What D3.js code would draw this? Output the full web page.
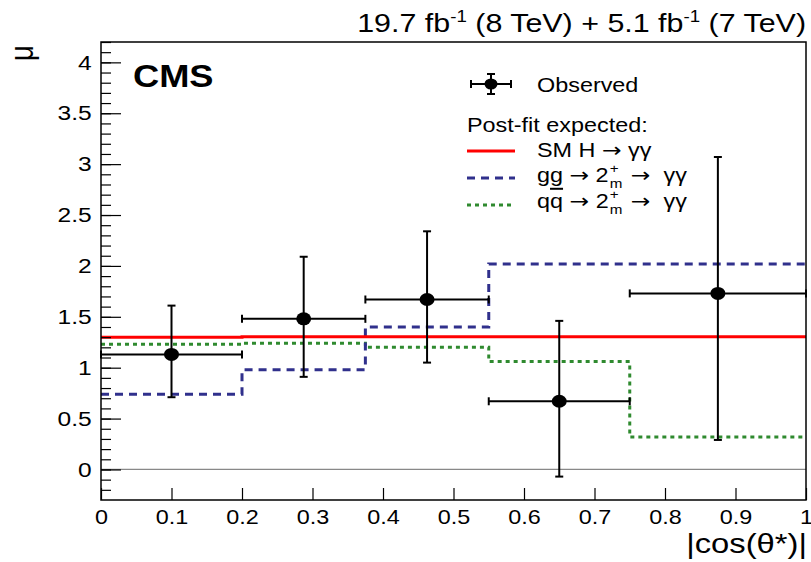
<!DOCTYPE html>
<html>
<head>
<meta charset="utf-8">
<script src="https://cdn.jsdelivr.net/npm/d3@7"></script>
<style>
  body { margin: 0; background: #fff; }
  text { font-family: "Liberation Sans", Arial, sans-serif; fill: #000; }
  .arrow { font-family: "DejaVu Sans", sans-serif; }
</style>
</head>
<body>
<div id="chart"></div>
<script>
// bin edges of |cos(theta*)|
const binEdges = [0, 0.2, 0.375, 0.55, 0.75, 1.0];

// observed signal strength per bin
const obsX = [0.1, 0.2875, 0.4625, 0.65, 0.875];
const obsMu = [1.13, 1.48, 1.67, 0.67, 1.73];
const obsLo = [0.71, 0.91, 1.05, -0.07, 0.29];
const obsHi = [1.61, 2.09, 2.34, 1.46, 3.07];

// post-fit expected
const smMu = [1.30, 1.305, 1.305, 1.305, 1.305];
const ggMu = [0.74, 0.98, 1.40, 2.02, 2.02];
const qqMu = [1.23, 1.24, 1.20, 1.06, 0.32];

const xTicks = [0, 0.1, 0.2, 0.3, 0.4, 0.5, 0.6, 0.7, 0.8, 0.9, 1];
const yTicks = [0, 0.5, 1, 1.5, 2, 2.5, 3, 3.5, 4];

const width = 811, height = 562;
const margin = { top: 42, right: 5, bottom: 62, left: 101 };
const innerWidth = width - margin.left - margin.right;
const innerHeight = height - margin.top - margin.bottom;
const sx = 1.17; // text in the picture is a bit wider than tall

const xScale = d3.scaleLinear().domain([0, 1]).range([0, innerWidth]);
const yScale = d3.scaleLinear().domain([-0.3, 4.2]).range([innerHeight, 0]);

const svg = d3.select('#chart').append('svg')
  .attr('width', width).attr('height', height);

const mainG = svg.append('g')
  .attr('transform', `translate(${margin.left}, ${margin.top})`);

// text placed at x,y and stretched horizontally
const wideText = (parent, x, y, size, extra = '') =>
  parent.append('g')
    .attr('transform', `translate(${x}, ${y}) scale(${sx}, 1) ${extra}`)
    .append('text')
    .style('font-size', size + 'px');

// zero line
mainG.append('line')
  .attr('x1', 0).attr('x2', innerWidth)
  .attr('y1', yScale(0)).attr('y2', yScale(0))
  .attr('stroke', '#888').attr('stroke-width', 1.3);

// step histograms
const stepData = vals => {
  const pts = [];
  vals.forEach((v, i) => {
    pts.push([binEdges[i], v]);
    pts.push([binEdges[i + 1], v]);
  });
  return pts;
};
const lineGen = d3.line()
  .x(d => xScale(d[0]))
  .y(d => yScale(d[1]));

mainG.append('path')
  .attr('d', lineGen(stepData(qqMu)))
  .attr('fill', 'none').attr('stroke', '#2f8a2f')
  .attr('stroke-width', 3).attr('stroke-dasharray', '4,4');

mainG.append('path')
  .attr('d', lineGen(stepData(ggMu)))
  .attr('fill', 'none').attr('stroke', '#30308c')
  .attr('stroke-width', 3).attr('stroke-dasharray', '8,6');

mainG.append('path')
  .attr('d', lineGen(stepData(smMu)))
  .attr('fill', 'none').attr('stroke', '#ff0000').attr('stroke-width', 3);

// observed points
const obs = obsX.map((x, i) => ({
  x, mu: obsMu[i], lo: obsLo[i], hi: obsHi[i], x0: binEdges[i], x1: binEdges[i + 1]
}));
const cap = 4;
const obsG = mainG.append('g').attr('stroke', '#000').attr('stroke-width', 2);
obs.forEach(d => {
  const cx = xScale(d.x), cy = yScale(d.mu);
  obsG.append('line').attr('x1', xScale(d.x0)).attr('x2', xScale(d.x1)).attr('y1', cy).attr('y2', cy);
  obsG.append('line').attr('x1', cx).attr('x2', cx).attr('y1', yScale(d.lo)).attr('y2', yScale(d.hi));
  obsG.append('line').attr('x1', xScale(d.x0)).attr('x2', xScale(d.x0)).attr('y1', cy - cap).attr('y2', cy + cap);
  obsG.append('line').attr('x1', xScale(d.x1)).attr('x2', xScale(d.x1)).attr('y1', cy - cap).attr('y2', cy + cap);
  obsG.append('line').attr('x1', cx - cap).attr('x2', cx + cap).attr('y1', yScale(d.lo)).attr('y2', yScale(d.lo));
  obsG.append('line').attr('x1', cx - cap).attr('x2', cx + cap).attr('y1', yScale(d.hi)).attr('y2', yScale(d.hi));
});
mainG.selectAll('ellipse.obs').data(obs).join('ellipse')
  .attr('class', 'obs')
  .attr('cx', d => xScale(d.x)).attr('cy', d => yScale(d.mu))
  .attr('rx', 7.5).attr('ry', 6.5).attr('fill', '#000');

// axes
const xAxis = d3.axisBottom(xScale)
  .tickValues(xTicks)
  .tickFormat(d3.format('~g'))
  .tickSize(-12)
  .tickPadding(10);
const xAxisG = mainG.append('g')
  .attr('transform', `translate(0, ${innerHeight})`)
  .call(xAxis);
xAxisG.select('.domain').remove();
xAxisG.selectAll('.tick line').attr('stroke', '#000').attr('stroke-width', 1.2);
xAxisG.selectAll('.tick text')
  .attr('transform', `scale(${sx}, 1)`)
  .style('font-family', '"Liberation Sans", Arial, sans-serif')
  .style('font-size', '20px').attr('fill', '#000');

const yMinor = d3.range(-0.2, 4.21, 0.1).map(v => +v.toFixed(2));
const yMinorAxis = d3.axisLeft(yScale).tickValues(yMinor).tickSize(-10).tickFormat('');
const yMinorG = mainG.append('g').call(yMinorAxis);
yMinorG.select('.domain').remove();
yMinorG.selectAll('.tick line').attr('stroke', '#000').attr('stroke-width', 1.2);

const yAxis = d3.axisLeft(yScale)
  .tickValues(yTicks)
  .tickFormat(d3.format('~g'))
  .tickSize(-20)
  .tickPadding(8);
const yAxisG = mainG.append('g').call(yAxis);
yAxisG.select('.domain').remove();
yAxisG.selectAll('.tick line').attr('stroke', '#000').attr('stroke-width', 1.2);
yAxisG.selectAll('.tick text')
  .attr('transform', `scale(${sx}, 1)`)
  .style('font-family', '"Liberation Sans", Arial, sans-serif')
  .style('font-size', '21px').attr('fill', '#000');

// frame
mainG.append('rect')
  .attr('width', innerWidth).attr('height', innerHeight)
  .attr('fill', 'none').attr('stroke', '#000').attr('stroke-width', 1.5);

// axis titles
wideText(svg, 807, 553, 28).attr('text-anchor', 'end').text('|cos(θ*)|');
wideText(svg, 33, 45, 28, 'rotate(-90)').attr('text-anchor', 'end').text('μ');

const title = wideText(svg, 806, 32, 26).attr('text-anchor', 'end');
title.append('tspan').text('19.7 fb');
title.append('tspan').attr('dy', -10).style('font-size', '16px').text('-1');
title.append('tspan').attr('dy', 10).text(' (8 TeV) + 5.1 fb');
title.append('tspan').attr('dy', -10).style('font-size', '16px').text('-1');
title.append('tspan').attr('dy', 10).text(' (7 TeV)');

wideText(svg, 133, 87, 31).style('font-weight', 'bold').text('CMS');

// legend
const legG = svg.append('g');
const lx = 491, ly = 84;
const legObs = legG.append('g').attr('stroke', '#000').attr('stroke-width', 2);
legObs.append('line').attr('x1', lx - 20).attr('x2', lx + 20).attr('y1', ly).attr('y2', ly);
legObs.append('line').attr('x1', lx).attr('x2', lx).attr('y1', ly - 10).attr('y2', ly + 10);
legObs.append('line').attr('x1', lx - 20).attr('x2', lx - 20).attr('y1', ly - cap).attr('y2', ly + cap);
legObs.append('line').attr('x1', lx + 20).attr('x2', lx + 20).attr('y1', ly - cap).attr('y2', ly + cap);
legObs.append('line').attr('x1', lx - cap).attr('x2', lx + cap).attr('y1', ly - 10).attr('y2', ly - 10);
legObs.append('line').attr('x1', lx - cap).attr('x2', lx + cap).attr('y1', ly + 10).attr('y2', ly + 10);
legG.append('ellipse').attr('cx', lx).attr('cy', ly).attr('rx', 6.5).attr('ry', 5.5).attr('fill', '#000');
wideText(legG, 537, 92, 20).text('Observed');
wideText(legG, 467, 132, 20).text('Post-fit expected:');

const legLines = [
  { y: 151, color: '#ff0000', dash: null },
  { y: 178, color: '#30308c', dash: '8,6' },
  { y: 205, color: '#2f8a2f', dash: '4,4' }
];
legLines.forEach(l => {
  legG.append('line').attr('x1', 467).attr('x2', 515).attr('y1', l.y).attr('y2', l.y)
    .attr('stroke', l.color).attr('stroke-width', 3)
    .attr('stroke-dasharray', l.dash);
});

const sm = wideText(legG, 537, 157, 20);
sm.append('tspan').text('SM H ');
sm.append('tspan').attr('class', 'arrow').text('→');
sm.append('tspan').text(' γγ');

const spinLabel = (y, overline) => {
  const t = wideText(legG, 537, y, 20);
  if (overline) {
    t.append('tspan').text('q');
    t.append('tspan').style('text-decoration', 'overline').text('q');
  } else {
    t.append('tspan').text('gg');
  }
  t.append('tspan').text(' ');
  t.append('tspan').attr('class', 'arrow').text('→');
  t.append('tspan').text(' 2');
  const w = t.node().getComputedTextLength();
  const sel = d3.select(t.node().parentNode);
  sel.append('text').attr('x', w + 1).attr('y', -9).style('font-size', '13px').text('+');
  sel.append('text').attr('x', w + 1).attr('y', 6).style('font-size', '13px').text('m');
  const rest = sel.append('text').attr('x', w + 19).attr('y', 0).style('font-size', '20px');
  rest.append('tspan').attr('class', 'arrow').text('→');
  rest.append('tspan').text('  γγ').attr('xml:space', 'preserve').style('white-space', 'pre');
};
spinLabel(182, false);
spinLabel(208, true);
</script>
</body>
</html>
